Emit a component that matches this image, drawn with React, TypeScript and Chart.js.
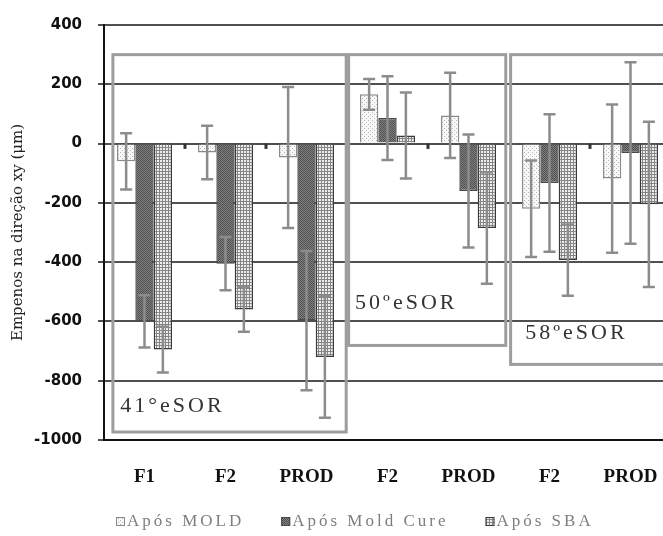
import React, { useEffect, useRef } from 'react';
import { Chart, registerables } from 'chart.js';

Chart.register(...registerables);

// ---------- data ----------
const categories = ['F1', 'F2', 'PROD', 'F2', 'PROD', 'F2', 'PROD'];
const seriesNames = ['Após MOLD', 'Após Mold Cure', 'Após SBA'];

const moldValues = [-60, -30, -47, 166, 95, -220, -118];
const moldErrors = [95, 90, 238, 52, 144, 163, 250];
const cureValues = [-600, -405, -597, 86, -160, -133, -32];
const cureErrors = [88, 90, 235, 141, 191, 232, 306];
const sbaValues = [-695, -560, -720, 27, -285, -393, -205];
const sbaErrors = [77, 75, 205, 145, 188, 120, 279];

// small marks between categories (value per boundary, null = none)
const gapMarkValues = [-18, -18, null, -18, null, -18];

const yMin = -1000;
const yMax = 400;
const yStep = 200;

// group annotation boxes (category-index units / value units)
const groupLabels = ['41°eSOR', '50ºeSOR', '58ºeSOR'];
const groupStart = [-0.39, 2.52, 4.52];
const groupEnd = [2.49, 4.46, 6.55];
const groupTop = [300, 300, 300];
const groupBottom = [-973, -681, -745];
const groupLabelX = [-0.3, 2.6, 4.7];
const groupLabelY = [-885, -540, -641];

const yTitle = 'Empenos na direção xy (μm)';

const valueSets = [moldValues, cureValues, sbaValues];
const errorSets = [moldErrors, cureErrors, sbaErrors];

function makePattern(kind: string): CanvasPattern | string {
  const c = document.createElement('canvas');
  const s = kind === 'sba' ? 3 : 4;
  c.width = s;
  c.height = s;
  const g = c.getContext('2d');
  if (!g) return '#999';
  if (kind === 'mold') {
    g.fillStyle = '#f8f8f8';
    g.fillRect(0, 0, s, s);
    g.fillStyle = '#b4b4b4';
    g.fillRect(0, 0, 1, 1);
    g.fillRect(2, 2, 1, 1);
  } else if (kind === 'cure') {
    g.fillStyle = '#808080';
    g.fillRect(0, 0, s, s);
    g.fillStyle = '#505050';
    for (let yy = 0; yy < s; yy++)
      for (let xx = 0; xx < s; xx++) if ((xx + yy) % 2 === 0) g.fillRect(xx, yy, 1, 1);
  } else {
    g.fillStyle = '#eeeeee';
    g.fillRect(0, 0, s, s);
    g.fillStyle = '#858585';
    g.fillRect(0, 0, s, 1);
    g.fillRect(0, 0, 1, s);
  }
  const p = g.createPattern(c, 'repeat');
  return p || '#999';
}

const overlayPlugin = {
  id: 'overlay',
  afterDatasetsDraw(chart: any) {
    const { ctx } = chart;
    const x = chart.scales.x;
    const y = chart.scales.y;
    ctx.save();
    // group boxes
    ctx.strokeStyle = '#9d9d9d';
    ctx.lineWidth = 3;
    groupLabels.forEach((_, g) => {
      const l = x.getPixelForValue(groupStart[g]);
      const r = x.getPixelForValue(groupEnd[g]);
      const t = y.getPixelForValue(groupTop[g]);
      const b = y.getPixelForValue(groupBottom[g]);
      ctx.strokeRect(l, t, r - l, b - t);
    });
    // gap marks
    ctx.fillStyle = '#333';
    gapMarkValues.forEach((v, i) => {
      if (v === null) return;
      const cx = x.getPixelForValue(i + 0.5);
      const y0 = y.getPixelForValue(0);
      const y1 = y.getPixelForValue(v);
      ctx.fillRect(cx - 1.5, y0, 3, y1 - y0);
    });
    // error bars
    ctx.strokeStyle = '#8c8c8c';
    ctx.lineWidth = 2.5;
    chart.data.datasets.forEach((_: any, di: number) => {
      const meta = chart.getDatasetMeta(di);
      meta.data.forEach((bar: any, i: number) => {
        const v = valueSets[di][i];
        const e = errorSets[di][i];
        const cx = bar.x;
        const yTop = y.getPixelForValue(v + e);
        const yBot = y.getPixelForValue(v - e);
        const cap = 6;
        ctx.beginPath();
        ctx.moveTo(cx, yTop);
        ctx.lineTo(cx, yBot);
        ctx.moveTo(cx - cap, yTop);
        ctx.lineTo(cx + cap, yTop);
        ctx.moveTo(cx - cap, yBot);
        ctx.lineTo(cx + cap, yBot);
        ctx.stroke();
      });
    });
    // group labels
    ctx.fillStyle = '#333';
    ctx.font = '22px "Liberation Serif"';
    ctx.textBaseline = 'middle';
    ctx.textAlign = 'left';
    try { (ctx as any).letterSpacing = '3px'; } catch (e) {}
    groupLabels.forEach((lab, g) => {
      ctx.fillText(lab, x.getPixelForValue(groupLabelX[g]), y.getPixelForValue(groupLabelY[g]));
    });
    try { (ctx as any).letterSpacing = '0px'; } catch (e) {}
    ctx.restore();
  },
  afterDraw(chart: any) {
    const { ctx } = chart;
    ctx.save();
    const font = '17px "Liberation Serif"';
    const spacing = 3;
    ctx.font = font;
    ctx.textBaseline = 'middle';
    ctx.textAlign = 'left';
    let cx = 116;
    const cy = 522;
    chart.data.datasets.forEach((ds: any) => {
      ctx.fillStyle = ds.backgroundColor;
      ctx.fillRect(cx, cy - 5, 9, 9);
      ctx.strokeStyle = ds.borderColor;
      ctx.lineWidth = 1;
      ctx.strokeRect(cx + 0.5, cy - 4.5, 8, 8);
      try { (ctx as any).letterSpacing = '0px'; } catch (e) {}
      const w = ctx.measureText(ds.label).width + spacing * ds.label.length;
      try { (ctx as any).letterSpacing = spacing + 'px'; } catch (e) {}
      ctx.fillStyle = '#7e7e7e';
      ctx.fillText(ds.label, cx + 11, cy);
      cx += 11 + w + 37;
    });
    try { (ctx as any).letterSpacing = '0px'; } catch (e) {}
    ctx.restore();
  },
};

export default function App() {
  const ref = useRef<HTMLCanvasElement | null>(null);
  useEffect(() => {
    if (!ref.current) return;
    const patterns = [makePattern('mold'), makePattern('cure'), makePattern('sba')];
    const borders = ['#8a8a8a', '#4a4a4a', '#3a3a3a'];
    const chart = new Chart(ref.current, {
      type: 'bar',
      data: {
        labels: categories,
        datasets: valueSets.map((vals, i) => ({
          label: seriesNames[i],
          data: vals,
          backgroundColor: patterns[i] as any,
          borderColor: borders[i],
          borderWidth: 1.5,
          categoryPercentage: 0.68,
          barPercentage: 1.0,
        })),
      },
      options: {
        animation: false,
        responsive: false,
        devicePixelRatio: 1,
        layout: { padding: { left: 0, right: 19, top: 23, bottom: 0 } },
        plugins: {
          legend: { display: false },
          tooltip: { enabled: false },
        },
        scales: {
          x: {
            grid: { display: false, drawTicks: false },
            border: { display: true, color: '#111', width: 2 },
            ticks: {
              color: '#111',
              padding: 26,
              font: { family: '"Liberation Serif"', size: 19, weight: 'bold' },
            },
            afterFit: (s: any) => { s.height = 96; },
          },
          y: {
            min: yMin,
            max: yMax,
            ticks: {
              stepSize: yStep,
              color: '#111',
              padding: 16,
              font: { family: '"DejaVu Sans"', size: 15, weight: 'bold' },
              callback: (v: any) => String(v),
            },
            grid: { color: '#505050', lineWidth: 2, tickLength: 6, drawTicks: true },
            border: { display: true, color: '#111', width: 2 },
            title: {
              display: true,
              text: yTitle,
              color: '#222',
              padding: { top: 9, bottom: 0 },
              font: { family: '"DejaVu Serif"', size: 15 },
            },
            afterFit: (s: any) => { s.width = 104; },
          },
        },
      },
      plugins: [overlayPlugin],
    });
    return () => chart.destroy();
  }, []);
  return (
    <div style={{ position: 'fixed', left: 0, top: 0, width: 663, height: 536, overflow: 'hidden', background: '#fff' }}>
      <canvas ref={ref} width={690} height={536} style={{ display: 'block' }} />
    </div>
  );
}
